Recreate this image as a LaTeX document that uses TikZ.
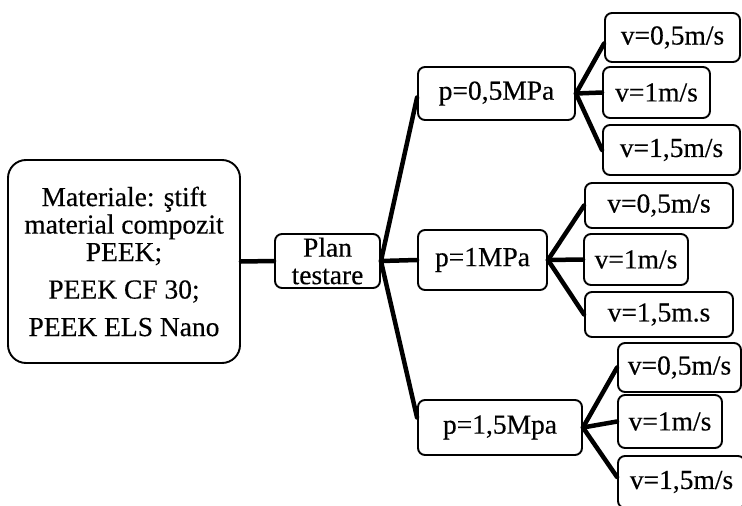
\documentclass[tikz,border=0pt]{standalone}
\usepackage{fontspec}
\setmainfont{Liberation Serif}[FakeBold=0.35]
\begin{document}
\begin{tikzpicture}[x=1pt,y=-1pt,
  box/.style={draw=black, line width=1.9pt, rounded corners=7pt, inner sep=0pt, align=center,
    font=\fontsize{27.5}{27.5}\selectfont},
  link/.style={line width=4.5pt, line cap=round}]
\useasboundingbox (0,0) rectangle (742,506);
\fill[white] (0,0) rectangle (742,506);
% main boxes
\node[box, rounded corners=18pt, minimum width=232pt, minimum height=203pt] (mat) at (124,261.5)
  {Materiale: ştift\\material compozit\\PEEK;\\[10pt]PEEK CF 30;\\[10pt]PEEK ELS Nano};
\node[box, minimum width=105pt, minimum height=54pt] (plan) at (327.5,261) {Plan\\testare};
% pressure boxes
\node[box, minimum width=157pt, minimum height=53pt] (pa) at (496.5,93.5) {p=0,5MPa};
\node[box, minimum width=129pt, minimum height=60pt] (pb) at (482.5,260) {p=1MPa};
\node[box, minimum width=164pt, minimum height=55pt] (pc) at (500,427.5) {p=1,5Mpa};
% velocity boxes group 1
\node[box, minimum width=135pt, minimum height=49pt] (a1) at (672.5,37.5) {v=0,5m/s};
\node[box, minimum width=107pt, minimum height=51pt] (a2) at (656.5,92.5) {v=1m/s};
\node[box, minimum width=137pt, minimum height=50pt] (a3) at (671.5,150) {v=1,5m/s};
% group 2
\node[box, minimum width=148pt, minimum height=45pt] (b1) at (659,205.5) {v=0,5m/s};
\node[box, minimum width=104pt, minimum height=51pt] (b2) at (636,259.5) {v=1m/s};
\node[box, minimum width=148pt, minimum height=45pt] (b3) at (659,314.5) {v=1,5m.s};
% group 3
\node[box, minimum width=123pt, minimum height=49pt] (c1) at (679.5,367.5) {v=0,5m/s};
\node[box, minimum width=104pt, minimum height=53pt] (c2) at (670,421.5) {v=1m/s};
\node[box, minimum width=127pt, minimum height=52pt] (c3) at (681.5,482) {v=1,5m/s};
% connectors
\draw[link] (mat.east) -- (plan.west);
\draw[link] (plan.east) -- ([yshift=-4pt]pa.west);
\draw[link] (plan.east) -- (pb.west);
\draw[link] (plan.east) -- ([yshift=10pt]pc.west);
\draw[link] (pa.east) -- ([yshift=-6pt]a1.west);
\draw[link] (pa.east) -- (a2.west);
\draw[link] (pa.east) -- (a3.west);
\draw[link] (pb.east) -- (b1.west);
\draw[link] (pb.east) -- (b2.west);
\draw[link] (pb.east) -- (b3.west);
\draw[link] (pc.east) -- (c1.west);
\draw[link] (pc.east) -- (c2.west);
\draw[link] (pc.east) -- ([yshift=5pt]c3.west);
\end{tikzpicture}
\end{document}
